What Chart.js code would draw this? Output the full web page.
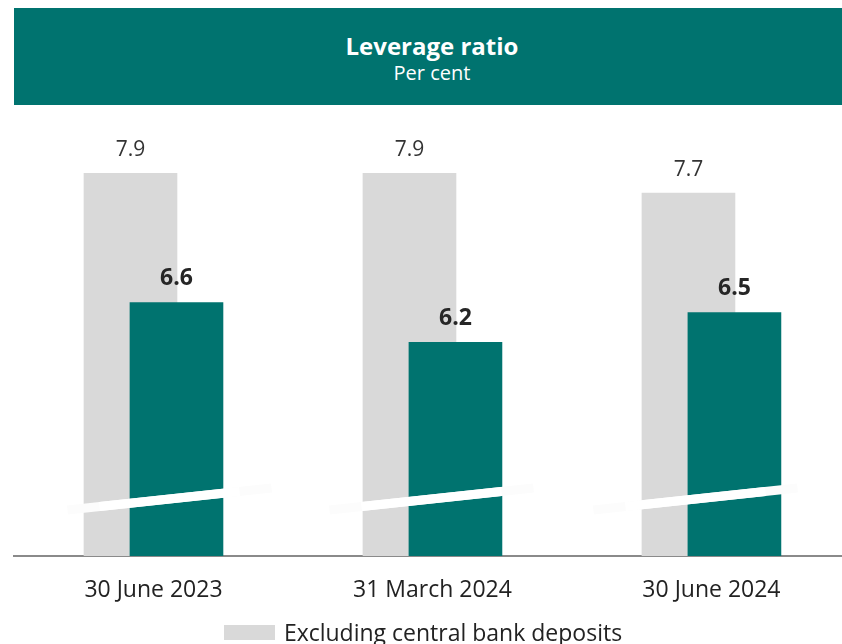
<!DOCTYPE html>
<html>
<head>
<meta charset="utf-8">
<script src="https://cdn.jsdelivr.net/npm/chart.js@4.4.1/dist/chart.umd.min.js"></script>
<style>
    html, body { margin: 0; padding: 0; background: #fff; overflow: hidden; }
    body { width: 842px; height: 644px; position: relative; font-family: "Open Sans", "Noto Sans", sans-serif; }
    #chart { position: absolute; left: 0; top: 0; }
    .header { position: absolute; left: 14px; top: 8px; width: 828px; height: 97px; background: #00736f; color: #fff; text-align: center; }
    .header .title { position: absolute; left: 8px; right: 0; top: 23px; line-height: 30px; font-size: 24px; font-weight: bold; }
    .header .sub { position: absolute; left: 8px; right: 0; top: 52px; line-height: 26px; font-size: 20px; }
    .legend { position: absolute; left: 2px; top: 618px; width: 842px; }
    .legend .row { display: flex; justify-content: center; align-items: center; height: 28px; margin-bottom: 10px; font-size: 23px; color: #222; }
    .legend .box { width: 51px; height: 15px; margin-right: 9px; }
</style>
</head>
<body>
<canvas id="chart" width="842" height="644"></canvas>
<div class="header">
    <div class="title">Leverage ratio</div>
    <div class="sub">Per cent</div>
</div>
<div class="legend" id="legend"></div>
<script>
// Chart data
const categories = ['30 June 2023', '31 March 2024', '30 June 2024'];
const seriesNames = ['Excluding central bank deposits', 'Including central bank deposits'];
const excludingValues = [7.9, 7.9, 7.7];
const includingValues = [6.6, 6.2, 6.5];

const GREY = '#d9d9d9';
const TEAL = '#00736f';
const BAR_SHIFT = 0.0824; // half the overlap shift, in category units

function toPoints(values, shift) {
    return values.map((v, i) => ({ x: i + shift, y: v }));
}

// Bar value labels
const valueLabels = {
    id: 'valueLabels',
    afterDatasetsDraw(chart) {
        const ctx = chart.ctx;
        ctx.save();
        ctx.textAlign = 'center';
        ctx.textBaseline = 'middle';
        chart.data.datasets.forEach((ds, di) => {
            const meta = chart.getDatasetMeta(di);
            meta.data.forEach((bar, i) => {
                const v = ds.data[i].y;
                if (ds.boldLabels) {
                    ctx.font = 'bold 23px "Open Sans"';
                    ctx.fillStyle = '#262626';
                    ctx.fillText(v.toFixed(1), bar.x, bar.y - 24);
                } else {
                    ctx.font = '21px "Open Sans"';
                    ctx.fillStyle = '#333';
                    ctx.fillText(v.toFixed(1), bar.x, bar.y - 23);
                }
            });
        });
        ctx.restore();
    }
};

// White diagonal strips marking the broken axis
const axisBreaks = {
    id: 'axisBreaks',
    afterDatasetsDraw(chart) {
        const ctx = chart.ctx;
        const xs = chart.scales.x;
        const bottom = chart.chartArea.bottom;
        const shifts = [16, -1, -16];
        ctx.save();
        ctx.lineWidth = 9;
        ctx.lineCap = 'butt';
        categories.forEach((c, i) => {
            const cx = xs.getPixelForValue(i) + shifts[i];
            ctx.strokeStyle = '#fcfcfc';
            ctx.beginPath();
            ctx.moveTo(cx - 102, bottom - 46);
            ctx.lineTo(cx + 102, bottom - 68);
            ctx.stroke();
            // pure white over the bars
            ctx.strokeStyle = '#ffffff';
            ctx.beginPath();
            ctx.moveTo(cx - 70, bottom - 49.5);
            ctx.lineTo(cx + 70, bottom - 64.5);
            ctx.stroke();
        });
        ctx.restore();
    }
};

new Chart(document.getElementById('chart'), {
    type: 'bar',
    data: {
        datasets: [{
            label: seriesNames[1],
            data: toPoints(includingValues, BAR_SHIFT),
            backgroundColor: TEAL,
            barThickness: 93,
            grouped: false,
            boldLabels: true,
            order: 1
        }, {
            label: seriesNames[0],
            data: toPoints(excludingValues, -BAR_SHIFT),
            backgroundColor: GREY,
            barThickness: 93,
            grouped: false,
            order: 2
        }]
    },
    options: {
        responsive: false,
        animation: false,
        layout: { padding: { left: 14, right: 0, top: 130, bottom: 0 } },
        plugins: {
            legend: { display: false },
            tooltip: { enabled: false }
        },
        scales: {
            x: {
                type: 'linear',
                offset: false,
                min: -0.5,
                max: 2.468,
                grid: { display: false, drawTicks: false },
                border: { display: true, color: '#8a8a8a', width: 2 },
                afterBuildTicks: (scale) => {
                    scale.ticks = categories.map((c, i) => ({ value: i }));
                },
                afterFit: (scale) => { scale.height = 88; },
                ticks: {
                    padding: 21,
                    color: '#222',
                    font: { family: '"Open Sans"', size: 23 },
                    callback: (v) => categories[v]
                }
            },
            y: {
                display: false,
                min: 4.055,
                max: 8.334
            }
        }
    },
    plugins: [valueLabels, axisBreaks]
});

// HTML legend, one entry per row
const legendColors = [GREY, TEAL];
const legend = document.getElementById('legend');
seriesNames.forEach((name, i) => {
    const row = document.createElement('div');
    row.className = 'row';
    row.innerHTML = '<span class="box" style="background:' + legendColors[i] + '"></span><span>' + name + '</span>';
    legend.appendChild(row);
});
</script>
</body>
</html>
